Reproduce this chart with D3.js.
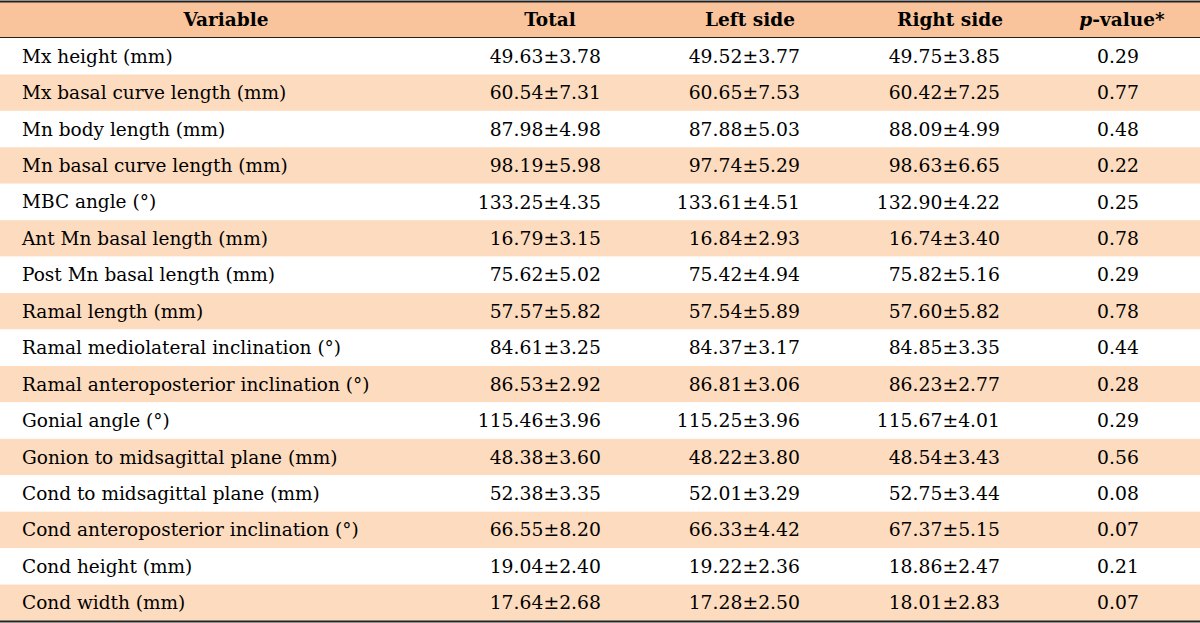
<!DOCTYPE html>
<html><head><meta charset="utf-8">
<script src="https://cdn.jsdelivr.net/npm/d3@7"></script>
<style>body{margin:0;background:#fff;}svg{display:block;}</style>
</head><body><svg id="c" width="1200" height="623"></svg>
<script>
const headers = ["Variable","Total","Left side","Right side","p-value*"];
const variables = ["Mx height (mm)","Mx basal curve length (mm)","Mn body length (mm)","Mn basal curve length (mm)","MBC angle (°)","Ant Mn basal length (mm)","Post Mn basal length (mm)","Ramal length (mm)","Ramal mediolateral inclination (°)","Ramal anteroposterior inclination (°)","Gonial angle (°)","Gonion to midsagittal plane (mm)","Cond to midsagittal plane (mm)","Cond anteroposterior inclination (°)","Cond height (mm)","Cond width (mm)"];
const totalVals = ["49.63±3.78","60.54±7.31","87.98±4.98","98.19±5.98","133.25±4.35","16.79±3.15","75.62±5.02","57.57±5.82","84.61±3.25","86.53±2.92","115.46±3.96","48.38±3.60","52.38±3.35","66.55±8.20","19.04±2.40","17.64±2.68"];
const leftVals = ["49.52±3.77","60.65±7.53","87.88±5.03","97.74±5.29","133.61±4.51","16.84±2.93","75.42±4.94","57.54±5.89","84.37±3.17","86.81±3.06","115.25±3.96","48.22±3.80","52.01±3.29","66.33±4.42","19.22±2.36","17.28±2.50"];
const rightVals = ["49.75±3.85","60.42±7.25","88.09±4.99","98.63±6.65","132.90±4.22","16.74±3.40","75.82±5.16","57.60±5.82","84.85±3.35","86.23±2.77","115.67±4.01","48.54±3.43","52.75±3.44","67.37±5.15","18.86±2.47","18.01±2.83"];
const pVals = ["0.29","0.77","0.48","0.22","0.25","0.78","0.29","0.78","0.44","0.28","0.29","0.56","0.08","0.07","0.21","0.07"];

const svg = d3.select("#c");
const W = 1200;
const font = "'DejaVu Serif', serif";
const fsLabel = 18.5, fsNum = 18.8, fsHead = 18.5;
const y = d3.scaleBand().domain(d3.range(variables.length)).range([38, 621]);
const headerTop = 2, headerBot = 37.5;

svg.append("rect").attr("x",0).attr("y",headerTop).attr("width",W).attr("height",headerBot-headerTop).attr("fill","#F9C49B");
svg.selectAll("rect.row").data(variables).join("rect").attr("class","row")
  .attr("x",0).attr("y",(d,i)=>y(i)).attr("width",W).attr("height",y.bandwidth())
  .attr("fill",(d,i)=> i%2===1 ? "#FDDBBE" : "#FFFFFF");

svg.append("line").attr("x1",0).attr("x2",W).attr("y1",1.5).attr("y2",1.5).attr("stroke","#222").attr("stroke-width",2);
svg.append("line").attr("x1",0).attr("x2",W).attr("y1",headerBot).attr("y2",headerBot).attr("stroke","#222").attr("stroke-width",1.2);
svg.append("line").attr("x1",0).attr("x2",W).attr("y1",621.5).attr("y2",621.5).attr("stroke","#222").attr("stroke-width",2);

const headerX = [226, 550, 750, 950, 1122];
const hg = svg.append("g");
headers.forEach((h,i)=>{
  const t = hg.append("text").attr("x",headerX[i]).attr("y",(headerTop+headerBot)/2).attr("dy","0.35em")
    .attr("text-anchor","middle").attr("font-family",font).attr("font-size",fsHead).attr("font-weight","bold").attr("fill","#000");
  if(i===4){
    t.append("tspan").attr("font-style","italic").text("p");
    t.append("tspan").text("-value*");
  } else t.text(h);
});

const cols = [
  {vals: variables, x: 22, anchor: "start", fs: fsLabel},
  {vals: totalVals, x: 601, anchor: "end", fs: fsNum},
  {vals: leftVals, x: 800, anchor: "end", fs: fsNum},
  {vals: rightVals, x: 1000, anchor: "end", fs: fsNum},
  {vals: pVals, x: 1118, anchor: "middle", fs: fsNum}
];
cols.forEach(c=>{
  svg.append("g").selectAll("text").data(c.vals).join("text")
    .attr("x",c.x).attr("y",(d,i)=>y(i)+y.bandwidth()/2).attr("dy","0.35em")
    .attr("text-anchor",c.anchor).attr("font-family",font).attr("font-size",c.fs).attr("fill","#000")
    .text(d=>d);
});
</script></body></html>
